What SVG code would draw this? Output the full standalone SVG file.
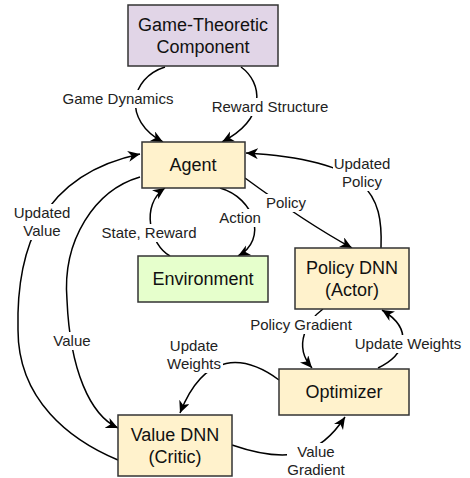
<svg xmlns="http://www.w3.org/2000/svg" width="470" height="478" viewBox="0 0 470 478">
<style>
.box{stroke:#333;stroke-width:1.5}
.agent{fill:#fff2cc}
.gt{fill:#e1d5e7}
.env{fill:#e6ffcc}
.nt{font-family:"Liberation Sans",Arial,sans-serif;font-size:18px;fill:#111;text-anchor:middle}
.lt{font-family:"Liberation Sans",Arial,sans-serif;font-size:15px;fill:#222;text-anchor:middle}
.lb{fill:#fff}
.c{fill:none;stroke:#000;stroke-width:1.5;marker-end:url(#ah)}
</style>
<defs>
<marker id="ah" markerUnits="userSpaceOnUse" markerWidth="14" markerHeight="12" refX="12" refY="5.5" orient="auto">
<path d="M0,0 L12,5.5 L0,11 L3.5,5.5 z" fill="#000"/>
</marker>
</defs>
<rect width="470" height="478" fill="#fff"/>
<g id="connectors">
<path class="c" d="M165,67 C130,78 122,120 163,142"/>
<path class="c" d="M241,67 C262,82 268,118 222,142"/>
<path class="c" d="M381,248 C383,195 370,160 246,153"/>
<path class="c" d="M245,178 C275,200 310,225 352,248"/>
<path class="c" d="M220,188 C255,198 268,240 238,256"/>
<path class="c" d="M170,256 C150,245 140,205 165,188"/>
<path class="c" d="M118,460 C70,440 18,400 18,330 C16,250 40,175 140,154"/>
<path class="c" d="M140,177 C95,190 62,240 67,300 C70,370 90,415 118,428"/>
<path class="c" d="M323,309 C308,320 292,345 312,368"/>
<path class="c" d="M378,368 C405,355 415,330 382,310"/>
<path class="c" d="M279,380 C245,355 205,350 180,413"/>
<path class="c" d="M232,445 C290,465 320,455 345,417"/>
</g>
<g id="labels">
<rect class="lb" x="62" y="90" width="112" height="18"/>
<text class="lt" x="118" y="104">Game Dynamics</text>
<rect class="lb" x="212" y="98" width="117" height="18"/>
<text class="lt" x="270" y="112">Reward Structure</text>
<rect class="lb" x="333" y="155" width="58" height="36"/>
<text class="lt" x="362" y="169">Updated</text>
<text class="lt" x="362" y="187">Policy</text>
<rect class="lb" x="265" y="194" width="42" height="18"/>
<text class="lt" x="286" y="208">Policy</text>
<rect class="lb" x="219" y="209" width="43" height="18"/>
<text class="lt" x="240" y="223">Action</text>
<rect class="lb" x="101" y="224" width="96" height="18"/>
<text class="lt" x="149" y="238">State, Reward</text>
<rect class="lb" x="13" y="204" width="58" height="36"/>
<text class="lt" x="42" y="218">Updated</text>
<text class="lt" x="42" y="236">Value</text>
<rect class="lb" x="52" y="332" width="40" height="18"/>
<text class="lt" x="72" y="346">Value</text>
<rect class="lb" x="250" y="316" width="103" height="18"/>
<text class="lt" x="301" y="330">Policy Gradient</text>
<rect class="lb" x="354" y="335" width="108" height="18"/>
<text class="lt" x="408" y="349">Update Weights</text>
<rect class="lb" x="166" y="337" width="57" height="36"/>
<text class="lt" x="194" y="351">Update</text>
<text class="lt" x="194" y="369">Weights</text>
<rect class="lb" x="287" y="443" width="59" height="35"/>
<text class="lt" x="316" y="457">Value</text>
<text class="lt" x="316" y="475">Gradient</text>
</g>
<g id="game-theoretic">
<rect class="box gt" x="128" y="5" width="150" height="61"/>
<text class="nt" x="203" y="31">Game-Theoretic</text>
<text class="nt" x="203" y="53">Component</text>
</g>
<g id="agent">
<rect class="box agent" x="142" y="142" width="103" height="46"/>
<text class="nt" x="193" y="171">Agent</text>
</g>
<g id="environment">
<rect class="box env" x="138" y="256" width="130" height="46"/>
<text class="nt" x="203" y="285">Environment</text>
</g>
<g id="policy-dnn">
<rect class="box agent" x="295" y="248" width="114" height="61"/>
<text class="nt" x="352" y="274">Policy DNN</text>
<text class="nt" x="352" y="296">(Actor)</text>
</g>
<g id="optimizer">
<rect class="box agent" x="279" y="369" width="130" height="46"/>
<text class="nt" x="344" y="398">Optimizer</text>
</g>
<g id="value-dnn">
<rect class="box agent" x="118" y="415" width="114" height="61"/>
<text class="nt" x="175" y="441">Value DNN</text>
<text class="nt" x="175" y="463">(Critic)</text>
</g>
</svg>
